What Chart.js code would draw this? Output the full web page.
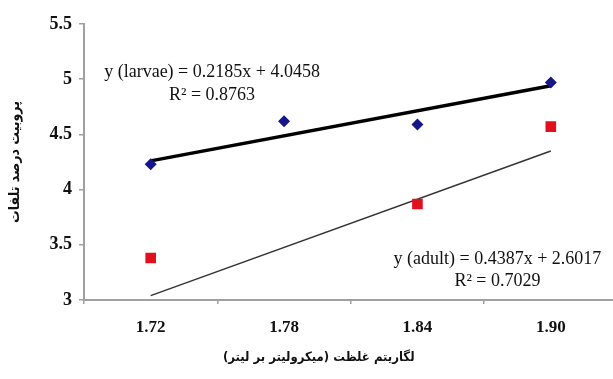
<!DOCTYPE html>
<html>
<head>
<meta charset="utf-8">
<script src="https://cdn.jsdelivr.net/npm/chart.js@4.4.1/dist/chart.umd.min.js"></script>
<style>
  html, body { margin: 0; padding: 0; background: #fff; overflow: hidden; }
  #wrap { width: 625px; height: 379px; }
</style>
</head>
<body>
<div id="wrap"><canvas id="probitChart" width="625" height="379"></canvas></div>
<script>
// ---- data ----
const concLabels = ['1.72', '1.78', '1.84', '1.90'];
const larvaeProbit = [4.23, 4.62, 4.59, 4.97];
const adultProbit = [3.38, null, 3.87, 4.57];   // 1.78 falls under the axis
const larvaeTrend = [4.26, null, null, 4.94];
const adultTrend = [3.04, null, null, 4.35];
const yTicks = [3, 3.5, 4, 4.5, 5, 5.5];

const larvaeEquation = ['y (larvae) = 0.2185x + 4.0458', 'R\u00B2 = 0.8763'];
const adultEquation = ['y (adult) = 0.4387x + 2.6017', 'R\u00B2 = 0.7029'];

const xTitle = '\u200Fلگاریتم غلظت (میکرولیتر بر لیتر)\u200F';
const yTitle = '\u200Fپروبیت درصد تلفات\u200F';

const axisGray = '#a0a0a0';
const serif = "'Liberation Serif', 'DejaVu Serif', serif";
const persian = "'DejaVu Sans Condensed', 'DejaVu Sans', sans-serif";

// equation labels, anchored in data units (category index, y value)
const equationLabels = [
  { lines: larvaeEquation, at: [0.46, 5.065], step: 0.21 },
  { lines: adultEquation, at: [2.6, 3.37], step: 0.2 }
];

const textPlugin = {
  id: 'texts',
  afterDatasetsDraw(chart) {
    const { ctx, scales } = chart;
    ctx.save();
    ctx.fillStyle = '#111';
    ctx.font = '18px ' + serif;
    ctx.textAlign = 'center';
    ctx.textBaseline = 'middle';
    equationLabels.forEach(lbl => {
      lbl.lines.forEach((line, i) => {
        const x = scales.x.getPixelForValue(lbl.at[0]);
        const y = scales.y.getPixelForValue(lbl.at[1] - i * lbl.step);
        ctx.fillText(line, x, y);
      });
    });
    // x axis title sits left of the plot centre in the original
    ctx.font = 'bold 13px ' + persian;
    ctx.fillText(xTitle, scales.x.getPixelForValue(1.26), 358);
    ctx.restore();
  }
};

const createChart = (ctx) => new Chart(ctx, {
  type: 'line',
  data: {
    labels: concLabels,
    datasets: [
      {
        label: 'larvae',
        data: larvaeProbit,
        showLine: false,
        pointStyle: 'rectRot',
        pointRadius: 6,
        pointBackgroundColor: '#14168a',
        pointBorderColor: '#14168a',
        pointBorderWidth: 0,
        order: 0
      },
      {
        label: 'adult',
        data: adultProbit,
        showLine: false,
        pointStyle: 'rect',
        pointRadius: 7.5,
        pointBackgroundColor: '#e0101c',
        pointBorderColor: '#e0101c',
        pointBorderWidth: 0,
        order: 1
      },
      {
        label: 'larvae trend',
        data: larvaeTrend,
        spanGaps: true,
        borderColor: '#000',
        borderWidth: 3.5,
        pointRadius: 0,
        order: 2
      },
      {
        label: 'adult trend',
        data: adultTrend,
        spanGaps: true,
        borderColor: '#333',
        borderWidth: 1.5,
        pointRadius: 0,
        order: 3
      }
    ]
  },
  options: {
    responsive: false,
    animation: false,
    layout: { padding: { top: 24, right: 0, left: 0, bottom: 0 } },
    plugins: {
      legend: { display: false },
      tooltip: { enabled: false }
    },
    scales: {
      x: {
        offset: true,
        grid: { offset: true, drawOnChartArea: false, drawTicks: true, tickLength: 4, color: axisGray, lineWidth: 1.5 },
        border: { display: true, color: axisGray, width: 2 },
        ticks: { color: '#111', padding: 13, font: { family: serif, size: 17, weight: 'bold' } },
        afterFit: (scale) => {
          scale.height = 79;
          scale.paddingLeft = 0;
          scale.paddingRight = 0;
        }
      },
      y: {
        min: 3,
        max: 5.5,
        afterBuildTicks: (scale) => { scale.ticks = yTicks.map(v => ({ value: v })); },
        grid: { drawOnChartArea: false, drawTicks: true, tickLength: 5, color: axisGray, lineWidth: 1.5 },
        border: { display: true, color: axisGray, width: 2 },
        ticks: {
          color: '#111',
          padding: 7,
          font: { family: serif, size: 18, weight: 'bold' },
          callback: (v) => String(v)
        },
        title: {
          display: true,
          text: yTitle,
          color: '#111',
          padding: { top: 7, bottom: 4 },
          font: { family: persian, size: 14, weight: 'bold' }
        },
        afterFit: (scale) => { scale.width = 84; }
      }
    }
  },
  plugins: [textPlugin]
});

window.onload = () => {
  createChart(document.getElementById('probitChart'));
};
</script>
</body>
</html>
